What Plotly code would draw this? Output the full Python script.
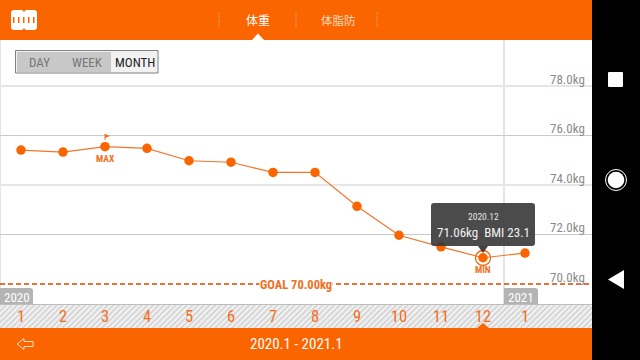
import plotly.graph_objects as go

months = ["2020.1","2020.2","2020.3","2020.4","2020.5","2020.6","2020.7","2020.8","2020.9","2020.10","2020.11","2020.12","2021.1"]
month_labels = ["1","2","3","4","5","6","7","8","9","10","11","12","1"]
weight = [75.41,75.33,75.55,75.48,74.98,74.92,74.51,74.51,73.14,71.97,71.50,71.06,71.25]
y_ticks = [70,72,74,76,78]
y_labels = ["70.0kg","72.0kg","74.0kg","76.0kg","78.0kg"]
goal = 70.0

ORANGE = "#FB6500"
LINE = "#F4752A"
TXT = "#F0701F"
NARROW = "Roboto Condensed, sans-serif"
CJK = "Noto Sans CJK JP, sans-serif"

idx = list(range(len(months)))
fig = go.Figure()

# Primary axes: page pixels, used for the app chrome. Chart lives on x2/y2 above it.
fig.add_trace(go.Scatter(x=[0,592,592,0,0], y=[305,305,328,328,305],
    mode="lines", line=dict(width=0), fill="toself", fillcolor="#F4F4F4",
    fillpattern=dict(shape="/", fgcolor="#B0B0B0", bgcolor="#F2F2F2", size=4, solidity=0.4),
    hoverinfo="skip", showlegend=False))

fig.add_trace(go.Scatter(x=idx, y=weight, xaxis="x2", yaxis="y2", mode="lines+markers", text=months,
    line=dict(color=LINE, width=1.2), marker=dict(color=ORANGE, size=9.5),
    hovertemplate="%{text}: %{y}kg<extra></extra>", showlegend=False))

def rect(x0,y0,x1,y1,fill,layer="above",line=None,lw=0):
    return dict(type="rect",xref="x",yref="y",x0=x0,y0=y0,x1=x1,y1=y1,fillcolor=fill,layer=layer,
                line=dict(color=line or fill,width=lw))
def path(d,fill,layer="above",line=None,lw=0):
    return dict(type="path",xref="x",yref="y",path=d,fillcolor=fill,layer=layer,
                line=dict(color=line or "rgba(0,0,0,0)",width=lw))
def rrect(x0,y0,x1,y1,r):
    return (f"M{x0+r},{y0} L{x1-r},{y0} Q{x1},{y0} {x1},{y0+r} L{x1},{y1-r} Q{x1},{y1} {x1-r},{y1} "
            f"L{x0+r},{y1} Q{x0},{y1} {x0},{y1-r} L{x0},{y0+r} Q{x0},{y0} {x0+r},{y0} Z")

shapes = []
# gridlines
for v,c,w in zip(y_ticks[1:],["#C9C9C9","#E6E6E6","#C9C9C9","#E6E6E6"],[1,2,1,2]):
    shapes.append(dict(type="line",xref="x2",x0=-0.5,x1=13.595,yref="y2",y0=v,y1=v,layer="below",line=dict(color=c,width=w)))
shapes.append(dict(type="line",xref="x2",x0=-0.5,x1=13.595,yref="y2",y0=goal,y1=goal,layer="below",
                   line=dict(color="#E8703A",width=2,dash="5px 3px")))
shapes += [
    rect(0,40,1,305,"#E4E4E4","below"),
    rect(503,40,505,328,"#E4E4E4","below"),
    rect(0,304,592,305,"#BDBDBD","below"),
    # year chips
    path("M0,288 L30,288 Q33,288 33,291 L33,304 L0,304 Z","#B4B4B4"),
    path("M504,288 L535,288 Q538,288 538,291 L538,304 L504,304 Z","#B4B4B4"),
    # chrome
    rect(0,0,592,40,ORANGE),
    rect(0,328,592,360,ORANGE),
    rect(592,0,640,360,"#000000"),
    path("M252,40 L258,33.5 L264,40 Z","#FFFFFF"),
    path("M477,328 L483,323 L489,328 Z",ORANGE),
    # header icon
    path(rrect(11,10,37,30,3),"#FFFFFF"),
    dict(type="circle",xref="x",yref="y",x0=22.5,x1=25.5,y0=8.5,y1=11.5,fillcolor=ORANGE,line=dict(width=0)),
    dict(type="circle",xref="x",yref="y",x0=22.5,x1=25.5,y0=28.5,y1=31.5,fillcolor=ORANGE,line=dict(width=0)),
    # button group
    rect(15.5,50.5,158,73,"#F2F2F2",line="#808080",lw=1),
    rect(17,52,111,72,"#C8C8C8"),
    # footer arrow
    path("M17,344 L24,338.5 L24,341.5 L33,341.5 L33,346.5 L24,346.5 L24,349.5 Z","rgba(0,0,0,0)",line="#FFE0C8",lw=1),
    # flag
    path("M105,134 L110,136 L105,138 Z",TXT),
    dict(type="line",xref="x",yref="y",x0=105,x1=105,y0=134,y1=140,line=dict(color=TXT,width=1)),
    # min ring
    dict(type="circle",xref="x",yref="y",x0=475.5,x1=490.5,y0=250.5,y1=265.5,layer="below",
         fillcolor="#FFFFFF",line=dict(color=ORANGE,width=1.3)),
    # tooltip
    path(rrect(431,203,535,246,3),"rgba(55,55,55,0.9)"),
    path("M478,246 L488,246 L483,253 Z","rgba(55,55,55,0.95)"),
    # nav buttons
    path(rrect(608,72,623,87,1),"#FFFFFF"),
    dict(type="circle",xref="x",yref="y",x0=605.5,x1=626.5,y0=169.5,y1=190.5,line=dict(color="#FFFFFF",width=1)),
    dict(type="circle",xref="x",yref="y",x0=607.7,x1=624.3,y0=171.7,y1=188.3,fillcolor="#FFFFFF",line=dict(width=0)),
    path("M608,279.5 L624,270 L624,289 Z","#FFFFFF"),
]
for x in (219,296,377):
    shapes.append(dict(type="line",xref="x",yref="y",x0=x,x1=x,y0=12,y1=28,line=dict(color="#FFB27F",width=1,dash="1px 1px")))
for x in (13,18,23,28,33):
    shapes.append(rect(x,17,x+1.5,23,ORANGE))

def note(x,y,t,size,color,font=NARROW,anchor="center",bg=None):
    return dict(xref="x",yref="y",x=x,y=y,text=t,showarrow=False,xanchor=anchor,yanchor="middle",
                font=dict(family=font,size=size,color=color),bgcolor=bg,borderpad=0)

anns = [
    note(258,19.5,"体重",12,"#FFFFFF",CJK),
    note(338,19.5,"体脂防",11.5,"#FFD9BF",CJK),
    note(39.5,62,"DAY",13,"#777777"),
    note(87,62,"WEEK",13,"#777777"),
    note(135,62,"MONTH",13,"#222222"),
    note(105,158,"<b>MAX</b>",9.5,TXT),
    note(483,269.5,"<b>MIN</b>",9.5,TXT),
    note(295.5,284,"<b>GOAL 70.00kg</b>",12.5,TXT,bg="#FFFFFF"),
    note(17,297,"2020",13,"#FFFFFF"),
    note(521,297,"2021",13,"#FFFFFF"),
    note(483,216,"2020.12",9.5,"#E4E4E4"),
    note(483,232,"71.06kg  BMI 23.1",13,"#F2F2F2"),
    note(296,344,"2020.1 - 2021.1",15,"#FFFFFF"),
]
for v,t in zip(y_ticks,y_labels):
    anns.append(dict(xref="x",yref="y2",x=586.5,y=v,yshift=7,text=t,showarrow=False,xanchor="right",yanchor="middle",
                     font=dict(family=NARROW,size=13,color="#8A8A8A")))

fig.update_layout(
    width=640,height=360,autosize=False,margin=dict(l=0,r=0,t=0,b=0),
    paper_bgcolor="#FFFFFF",plot_bgcolor="rgba(0,0,0,0)",showlegend=False,
    xaxis=dict(domain=[0,1],range=[0,640],visible=False,fixedrange=True),
    yaxis=dict(domain=[0,1],range=[360,0],visible=False,fixedrange=True),
    xaxis2=dict(domain=[0,592/640],range=[-0.5,13.595],tickmode="array",tickvals=idx,ticktext=month_labels,anchor="y2",
               ticklabelposition="inside",showgrid=False,zeroline=False,showline=False,ticks="",
               tickfont=dict(family=NARROW,size=16.5,color=TXT),fixedrange=True),
    yaxis2=dict(domain=[32/360,320/360],range=[68.222,79.859],side="right",tickmode="array",tickvals=y_ticks,anchor="x2",
               showticklabels=False,showgrid=False,zeroline=False,showline=False,ticks="",fixedrange=True),
    shapes=shapes,annotations=anns,
)
fig.write_html("out.html",config=dict(displayModeBar=False),
               post_script="document.body.style.margin='0';document.body.style.overflow='hidden';")
